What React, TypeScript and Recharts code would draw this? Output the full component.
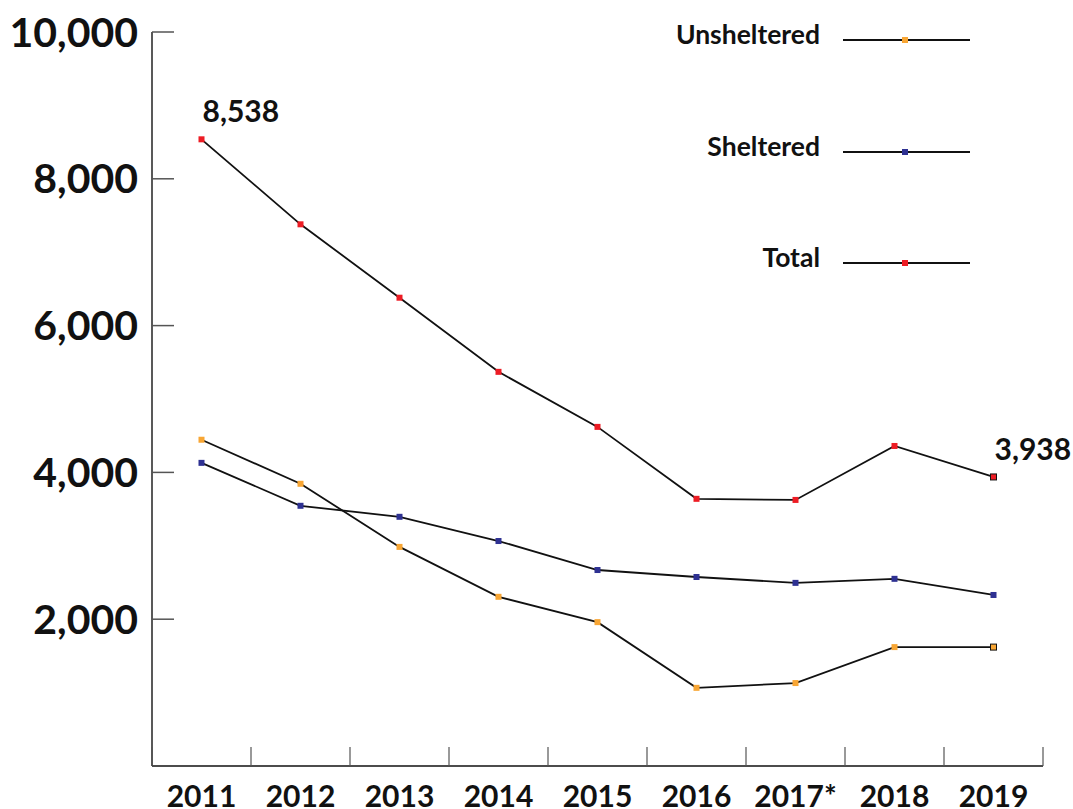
import {
  ComposedChart, Line, XAxis, YAxis, Legend, LabelList,
} from "recharts";

const years = ["2011", "2012", "2013", "2014", "2015", "2016", "2017*", "2018", "2019"];
const unsheltered = [4445, 3845, 2985, 2305, 1960, 1065, 1130, 1620, 1620];
const sheltered = [4130, 3545, 3395, 3065, 2670, 2575, 2495, 2550, 2330];
const total = [8538, 7380, 6380, 5370, 4620, 3640, 3625, 4360, 3938];
const yTicks = [2000, 4000, 6000, 8000, 10000];
const legendOrder = ["Unsheltered", "Sheltered", "Total"];

const data = years.map((year, i) => ({
  year,
  unsheltered: unsheltered[i],
  sheltered: sheltered[i],
  total: total[i],
}));

const FONT = "Lato, 'DejaVu Sans', sans-serif";
const COLORS = { unsheltered: "#f8a634", sheltered: "#2e3192", total: "#ed1c24" };
const W = 1073;
const H = 809;
const X_AXIS_H = 43;
const PLOT_BOTTOM = H - X_AXIS_H;
const X_TICK_LEN = 19;

function fmt(v: number) {
  return v.toLocaleString("en-US");
}

function squareDot(color: string, outlineLast: boolean) {
  return (props: any) => {
    const { cx, cy, index } = props;
    if (cx == null || cy == null) return <g key={`d-${index}`} />;
    const last = outlineLast && index === years.length - 1;
    return (
      <rect
        key={`d-${index}`}
        x={cx - 3}
        y={cy - 3}
        width={6}
        height={6}
        fill={color}
        stroke={last ? "#111" : "none"}
        strokeWidth={1}
      />
    );
  };
}

// year label plus the small upward tick marks at the band edges
function YearTick(props: any) {
  const { x, payload, index, visibleTicksCount } = props;
  const half = payload && payload.offset ? payload.offset : 49.5;
  const isLast = index === visibleTicksCount - 1;
  return (
    <g>
      <line x1={x - half} x2={x - half} y1={PLOT_BOTTOM - X_TICK_LEN} y2={PLOT_BOTTOM} stroke="#555" strokeWidth={1.2} />
      {isLast && (
        <line x1={x + half} x2={x + half} y1={PLOT_BOTTOM - X_TICK_LEN} y2={PLOT_BOTTOM} stroke="#555" strokeWidth={1.2} />
      )}
      <text x={x} y={PLOT_BOTTOM + 41} textAnchor="middle" fontFamily={FONT} fontWeight={700} fontSize={30} fill="#111">
        {payload.value}
      </text>
    </g>
  );
}

function EndLabel(props: any) {
  const { x, y, value, index } = props;
  if (index !== 0 && index !== years.length - 1) return null;
  return (
    <text x={x + 1} y={y - 17} textAnchor="start" fontFamily={FONT} fontWeight={700} fontSize={30} fill="#111">
      {fmt(value)}
    </text>
  );
}

function LegendBox({ payload }: any) {
  const rows = [...(payload || [])].sort(
    (a: any, b: any) => legendOrder.indexOf(a.value) - legendOrder.indexOf(b.value)
  );
  return (
    <div style={{ position: "relative", width: W, height: 300, fontFamily: FONT }}>
      {rows.map((item: any, i: number) => (
        <div key={item.value} style={{ position: "absolute", top: 40 + i * 111.5 - 20, left: 0, width: W, height: 40 }}>
          <span
            style={{
              position: "absolute", right: W - 820, top: -1, whiteSpace: "nowrap",
              fontSize: 26.5, fontWeight: 700, color: "#111", lineHeight: "30px",
            }}
          >
            {item.value}
          </span>
          <svg style={{ position: "absolute", left: 843, top: 10 }} width={130} height={20}>
            <line x1={0} y1={10} x2={127} y2={10} stroke="#111" strokeWidth={2} />
            <rect x={59} y={7} width={6} height={6} fill={item.payload.fill} />
          </svg>
        </div>
      ))}
    </div>
  );
}

export default function App() {
  return (
    <div style={{ position: "absolute", left: 0, top: 0, width: W, height: H, background: "#fff" }}>
      <ComposedChart width={W} height={H} data={data} margin={{ top: 32, right: 30, bottom: 0, left: 0 }}>
        <XAxis
          dataKey="year"
          type="category"
          scale="band"
          height={X_AXIS_H}
          tickLine={false}
          tickSize={0}
          axisLine={{ stroke: "#111", strokeWidth: 1.5 }}
          interval={0}
          tick={YearTick}
        />
        <YAxis
          width={152}
          domain={[0, 10000]}
          ticks={yTicks}
          tickFormatter={fmt}
          tickSize={-22}
          tickMargin={36}
          interval={0}
          axisLine={{ stroke: "#222", strokeWidth: 1.5 }}
          tickLine={{ stroke: "#555", strokeWidth: 1.5 }}
          tick={{ fontFamily: FONT, fontWeight: 700, fontSize: 41, fill: "#111" }}
        />
        <Legend
          layout="vertical"
          align="center"
          verticalAlign="middle"
          content={LegendBox}
          wrapperStyle={{ top: 0, left: 0, width: W, height: 300 }}
        />
        <Line
          dataKey="unsheltered"
          name="Unsheltered"
          stroke="#111"
          fill={COLORS.unsheltered}
          strokeWidth={1.8}
          dot={squareDot(COLORS.unsheltered, true)}
          isAnimationActive={false}
        />
        <Line
          dataKey="sheltered"
          name="Sheltered"
          stroke="#111"
          fill={COLORS.sheltered}
          strokeWidth={1.8}
          dot={squareDot(COLORS.sheltered, false)}
          isAnimationActive={false}
        />
        <Line
          dataKey="total"
          name="Total"
          stroke="#111"
          fill={COLORS.total}
          strokeWidth={1.8}
          dot={squareDot(COLORS.total, true)}
          isAnimationActive={false}
        >
          <LabelList dataKey="total" content={EndLabel} />
        </Line>
      </ComposedChart>
    </div>
  );
}
